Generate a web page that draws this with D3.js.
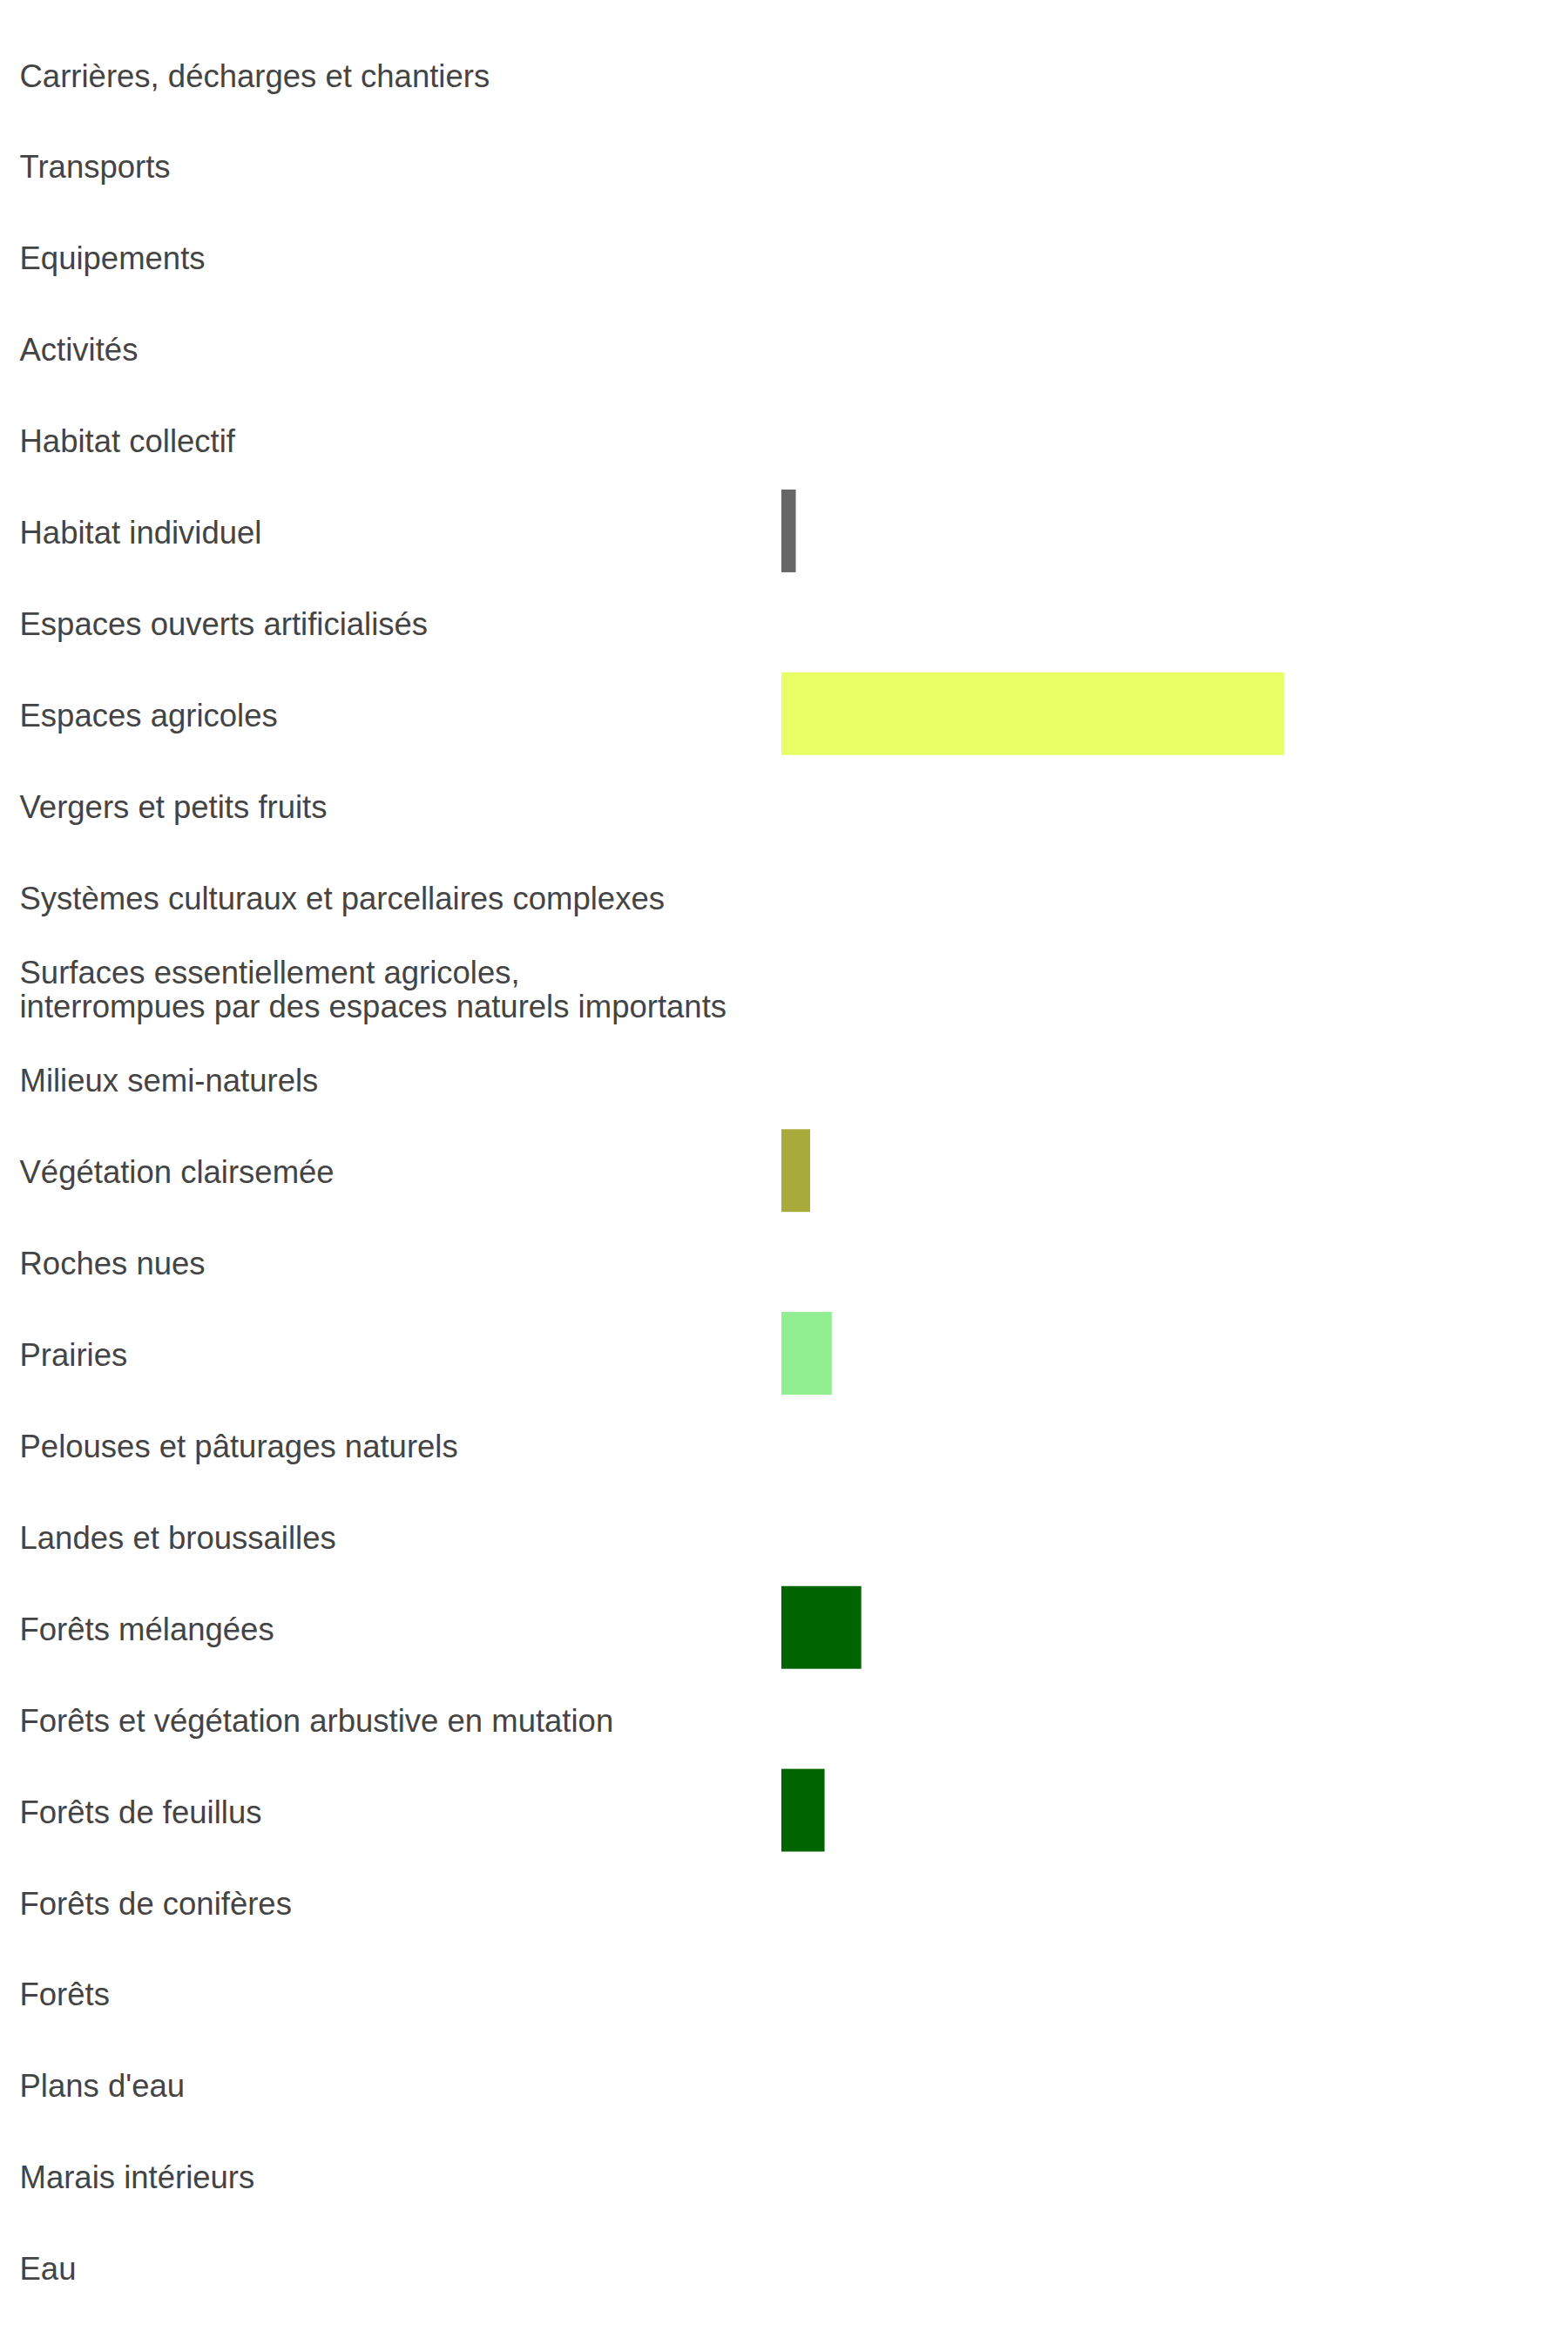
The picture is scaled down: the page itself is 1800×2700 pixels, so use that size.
<!DOCTYPE html>
<html>
<head>
<meta charset="utf-8">
<script src="https://cdn.jsdelivr.net/npm/d3@7"></script>
<style>
  html, body { margin: 0; padding: 0; background: #ffffff; }
  svg { display: block; }
</style>
</head>
<body>
<div id="chart"></div>
<script>
const categories = [
  "Carrières, décharges et chantiers",
  "Transports",
  "Equipements",
  "Activités",
  "Habitat collectif",
  "Habitat individuel",
  "Espaces ouverts artificialisés",
  "Espaces agricoles",
  "Vergers et petits fruits",
  "Systèmes culturaux et parcellaires complexes",
  "Surfaces essentiellement agricoles,\ninterrompues par des espaces naturels importants",
  "Milieux semi-naturels",
  "Végétation clairsemée",
  "Roches nues",
  "Prairies",
  "Pelouses et pâturages naturels",
  "Landes et broussailles",
  "Forêts mélangées",
  "Forêts et végétation arbustive en mutation",
  "Forêts de feuillus",
  "Forêts de conifères",
  "Forêts",
  "Plans d'eau",
  "Marais intérieurs",
  "Eau"
];

// share of surface (%) per category
const values = [0, 0, 0, 0, 0, 2.0, 0, 69.9, 0, 0, 0, 0, 4.0, 0, 7.0, 0, 0, 11.1, 0, 6.0, 0, 0, 0, 0, 0];

const colors = [
  "#666666", "#666666", "#666666", "#666666", "#666666", "#666666", "#666666",
  "#e8ff66", "#e8ff66", "#e8ff66", "#e8ff66",
  "#a8ab3a", "#a8ab3a", "#a8ab3a",
  "#90ee90", "#90ee90", "#90ee90",
  "#006400", "#006400", "#006400", "#006400", "#006400",
  "#4a90d9", "#4a90d9", "#4a90d9"
];

const W = 1800, H = 2700;
const data = categories.map((c, i) => ({ cat: c, value: values[i], color: colors[i] }));

const svg = d3.select("#chart").append("svg")
  .attr("width", W).attr("height", H)
  .attr("viewBox", `0 0 ${W} ${H}`);

const y = d3.scaleBand()
  .domain(categories)
  .range([32.5, 2655])
  .paddingInner(0.095)
  .paddingOuter(0.0475);

const x = d3.scaleLinear()
  .domain([0, 100])
  .range([897, 1723]);

// bars
svg.append("g")
  .selectAll("rect")
  .data(data.filter(d => d.value > 0))
  .join("rect")
  .attr("x", x(0))
  .attr("y", d => y(d.cat))
  .attr("width", d => x(d.value) - x(0))
  .attr("height", y.bandwidth())
  .attr("fill", d => d.color);

// labels
const fs = 36.5, lh = 39.6, lx = 22.5;
const labels = svg.append("g")
  .attr("font-family", "'Liberation Sans', Arial, Helvetica, sans-serif")
  .attr("font-size", fs)
  .attr("fill", "#444444")
  .selectAll("text")
  .data(data)
  .join("text")
  .attr("x", lx)
  .attr("y", d => y(d.cat) + y.bandwidth() / 2 + 1.5);

labels.each(function(d) {
  const lines = d.cat.split("\n");
  const t = d3.select(this);
  const offset0 = -(lines.length - 1) * lh / 2 + fs * 0.358;
  lines.forEach((ln, k) => {
    t.append("tspan")
      .attr("x", lx)
      .attr("dy", k === 0 ? offset0 : lh)
      .text(ln);
  });
});
</script>
</body>
</html>
